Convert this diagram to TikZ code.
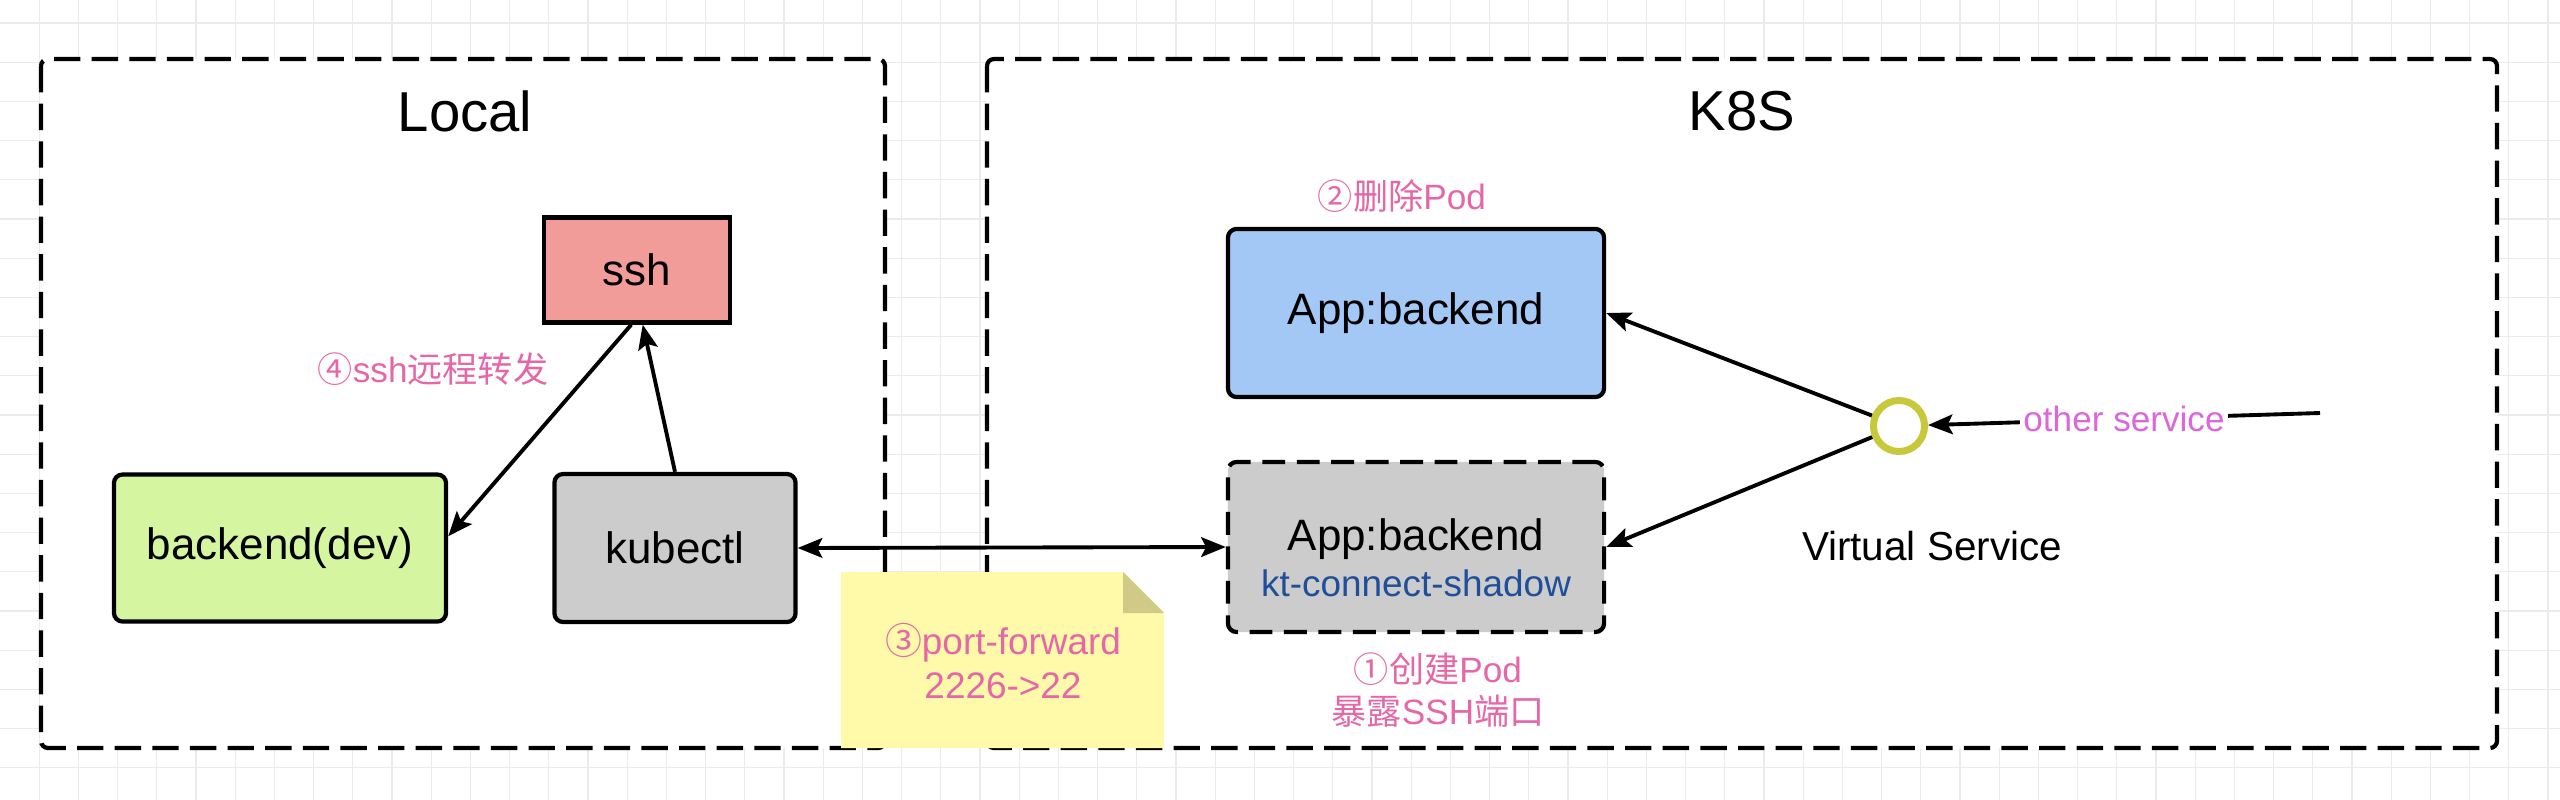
\documentclass[tikz,border=0pt]{standalone}
\usepackage{fontspec}
\setmainfont{Liberation Sans}
\newfontfamily\cjk{Noto Sans CJK SC}
\usetikzlibrary{arrows.meta}

\definecolor{gridgray}{HTML}{EBEBEB}
\definecolor{sshred}{HTML}{F19C99}
\definecolor{devgreen}{HTML}{D5F5A0}
\definecolor{podblue}{HTML}{A3C8F5}
\definecolor{podgray}{HTML}{CCCCCC}
\definecolor{notepink}{HTML}{E667A8}
\definecolor{ktblue}{HTML}{1F4E9A}
\definecolor{svcviolet}{HTML}{DD66DD}
\definecolor{vsyellow}{HTML}{C8C83C}
\definecolor{noteyellow}{HTML}{FFF9AA}
\definecolor{notefold}{HTML}{D0CA86}

\tikzset{
  gridline/.style={gridgray, line width=0.35pt},
  groupbox/.style={draw=black, fill=white, line width=1.2pt, dash pattern=on 7.5pt off 3.2pt, rounded corners=2pt},
  title/.style={font=\fontsize{16}{19}\selectfont},
  box/.style={draw=black, line width=1.2pt, rounded corners=2.5pt, inner sep=0pt, font=\fontsize{12.5}{15}\selectfont},
  stepnote/.style={text=notepink, align=center, font=\fontsize{10}{12}\selectfont},
  conn/.style={line width=1.1pt, >={Stealth[length=7pt,width=5.6pt,inset=1.4pt]}},
}

\begin{document}
\begin{tikzpicture}[x=0.01cm, y=-0.01cm]
	\useasboundingbox (0,0) rectangle (2560,800);
	\fill[white] (0,0) rectangle (2560,800);
	
	% background grid
	\foreach \i in {1,...,65}
	\draw[gridline] (\i*39.2,0) -- (\i*39.2,800);
	\foreach \j in {0,...,19}
	\draw[gridline] (0,23+\j*39.2) -- (2560,23+\j*39.2);
	
	% groups
	\draw[groupbox] (41,59) rectangle (885,748);
	\draw[groupbox] (987,59) rectangle (2497,748);
	\node[title] (local) at (465,111) {Local};
	\node[title] (k8s) at (1742,111) {K8S};
	
	% local side
	\node[box, sharp corners, fill=sshred, minimum width=18.6mm, minimum height=10.5mm] (ssh) at (637,270) {ssh};
	\node[box, fill=devgreen, minimum width=33.2mm, minimum height=14.7mm] (dev) at (280,548) {backend(dev)};
	\node[box, fill=podgray, minimum width=24.1mm, minimum height=14.8mm] (kc) at (675,548) {kubectl};
	\node[stepnote] (fwd) at (433,369) {{\cjk ④}ssh{\cjk 远程转发}};
	
	% k8s side
	\node[stepnote] (del) at (1402,196) {{\cjk ②删除}Pod};
	\node[box, fill=podblue, minimum width=37.6mm, minimum height=16.8mm] (app) at (1416,313) {App:backend};
	\node[box, fill=podgray, dash pattern=on 6.5pt off 3.3pt, minimum width=37.6mm, minimum height=17mm] (shadow) at (1416,547) {};
	\node[font=\fontsize{12.5}{15}\selectfont] (shadowapp) at (1416,539) {App:backend};
	\node[text=ktblue, font=\fontsize{10.5}{12}\selectfont] (shadowkt) at (1416,583) {kt-connect-shadow};
	\node[stepnote] (create) at (1438,690) {{\cjk ①创建}Pod\\{\cjk 暴露}SSH{\cjk 端口}};
	
	\node[circle, draw=vsyellow, fill=white, line width=2pt, minimum size=5.1mm, inner sep=0pt] (vs) at (1899,426) {};
	\node[font=\fontsize{11.5}{14}\selectfont] (vslbl) at (1932,546) {Virtual Service};
	\coordinate (other) at (2320,413);
	
	% port-forward note
	\fill[noteyellow] (841,572) -- (1123,572) -- (1164,613) -- (1164,748) -- (841,748) -- cycle;
	\fill[notefold] (1123,572) -- (1123,613) -- (1164,613) -- cycle;
	\node[stepnote, font=\fontsize{10.5}{12.5}\selectfont] (pf) at (1003,661) {{\cjk ③}port-forward\\2226->22};
	
	% connectors
	\draw[conn, ->] (kc.north) -- (ssh.-84);
	\draw[conn, ->] (ssh.-96) -- (dev.4);
	\draw[conn, <->] (kc.east) -- (shadow.west);
	\draw[conn, ->] (vs) -- (app.east);
	\draw[conn, ->] (vs) -- (shadow.east);
	\draw[conn, ->] (other) -- node[fill=white, text=svcviolet, inner sep=1pt, font=\fontsize{10}{12}\selectfont] (otherlbl) {other service} (vs);
\end{tikzpicture}
\end{document}
